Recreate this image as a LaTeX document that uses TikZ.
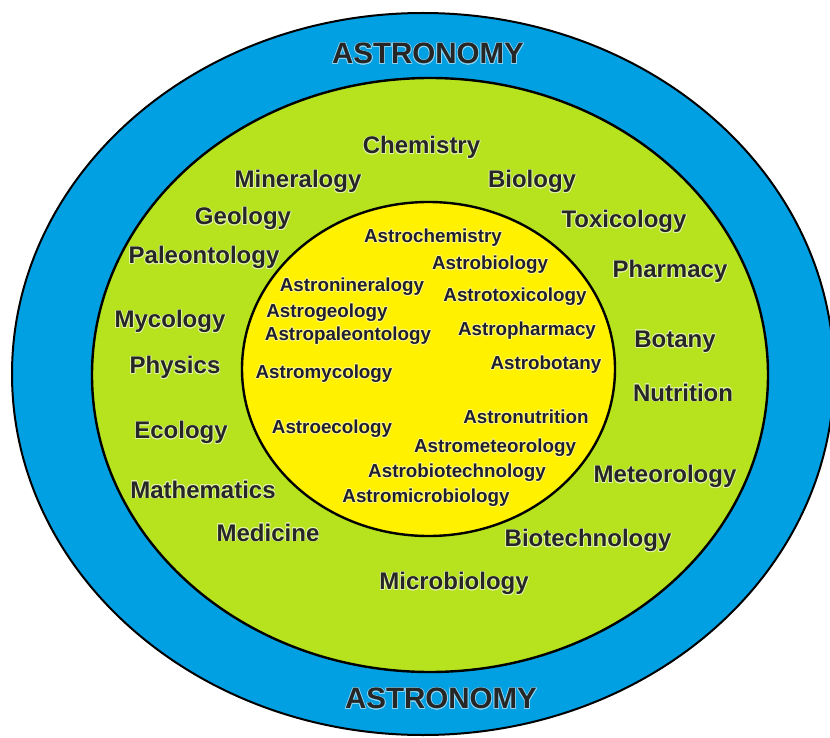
\documentclass[tikz,border=0pt]{standalone}
\usepackage{fontspec}
\setmainfont{Liberation Sans}
\usepackage{contour}
\contourlength{0.7pt}
\definecolor{skyblue}{RGB}{0,160,227}
\definecolor{limegreen}{RGB}{182,226,30}
\definecolor{sunyellow}{RGB}{255,241,0}
\definecolor{inktext}{RGB}{38,38,38}
\definecolor{innertext}{RGB}{30,30,48}
\tikzset{
  ring/.style={draw=black, line width=2.4pt},
  titlelbl/.style={inner sep=0pt, text=inktext, font=\bfseries\fontsize{29.5}{32}\selectfont},
  outerlbl/.style={inner sep=0pt, text=inktext, font=\bfseries\fontsize{24}{26}\selectfont},
  innerlbl/.style={inner sep=0pt, text=innertext, font=\bfseries\fontsize{18.8}{20}\selectfont}
}
\newcommand{\haloB}[1]{\contour{white!55!skyblue}{#1}}
\newcommand{\haloG}[1]{\contour{white!60!limegreen}{#1}}
\newcommand{\haloY}[1]{\contour{white!50!sunyellow}{#1}}
\begin{document}
\begin{tikzpicture}[x=1pt, y=-1pt]
\useasboundingbox (0,0) rectangle (830,738);
\fill[white] (0,0) rectangle (830,738);
\begin{scope}
\clip (0,0) rectangle (830,738);
\draw[ring, line width=2pt, fill=skyblue] (423,374) ellipse [x radius=411pt, y radius=361pt];
\end{scope}
\draw[ring, fill=limegreen] (430,375) ellipse [x radius=338pt, y radius=297pt];
\draw[ring, fill=sunyellow] (428.5,369) ellipse [x radius=186.5pt, y radius=167pt];

\node[titlelbl] (astrotop) at (428,54) {\haloB{ASTRONOMY}};
\node[titlelbl] (astrobot) at (441,699) {\haloB{ASTRONOMY}};

\node[outerlbl] (chem) at (421.5,148) {\haloG{Chemistry}};
\node[outerlbl] (mineral) at (298,182) {\haloG{Mineralogy}};
\node[outerlbl] (bio) at (532,182) {\haloG{Biology}};
\node[outerlbl] (geo) at (243,219) {\haloG{Geology}};
\node[outerlbl] (toxi) at (624,222) {\haloG{Toxicology}};
\node[outerlbl] (paleo) at (204,258) {\haloG{Paleontology}};
\node[outerlbl] (pharm) at (670,272) {\haloG{Pharmacy}};
\node[outerlbl] (myco) at (170,322) {\haloG{Mycology}};
\node[outerlbl] (bot) at (675,342) {\haloG{Botany}};
\node[outerlbl] (phys) at (175,368) {\haloG{Physics}};
\node[outerlbl] (nutr) at (683,393) {\haloG{Nutrition}};
\node[outerlbl] (eco) at (181,433) {\haloG{Ecology}};
\node[outerlbl] (meteo) at (665,477) {\haloG{Meteorology}};
\node[outerlbl] (math) at (203,490) {\haloG{Mathematics}};
\node[outerlbl] (med) at (268,533) {\haloG{Medicine}};
\node[outerlbl] (biotech) at (588,541) {\haloG{Biotechnology}};
\node[outerlbl] (micro) at (454,584) {\haloG{Microbiology}};

\node[innerlbl] (achem) at (433,238) {\haloY{Astrochemistry}};
\node[innerlbl] (abio) at (490,265) {\haloY{Astrobiology}};
\node[innerlbl] (amin) at (352,287) {\haloY{Astronineralogy}};
\node[innerlbl] (atox) at (515,297) {\haloY{Astrotoxicology}};
\node[innerlbl] (ageo) at (327,313) {\haloY{Astrogeology}};
\node[innerlbl] (apaleo) at (348,336) {\haloY{Astropaleontology}};
\node[innerlbl] (apharm) at (527,331) {\haloY{Astropharmacy}};
\node[innerlbl] (abot) at (546,365) {\haloY{Astrobotany}};
\node[innerlbl] (amyco) at (324,374) {\haloY{Astromycology}};
\node[innerlbl] (anutr) at (526,417) {\haloY{Astronutrition}};
\node[innerlbl] (aeco) at (332,429) {\haloY{Astroecology}};
\node[innerlbl] (ameteo) at (495,448) {\haloY{Astrometeorology}};
\node[innerlbl] (abiotech) at (457,473) {\haloY{Astrobiotechnology}};
\node[innerlbl] (amicro) at (426,498) {\haloY{Astromicrobiology}};
\end{tikzpicture}
\end{document}
